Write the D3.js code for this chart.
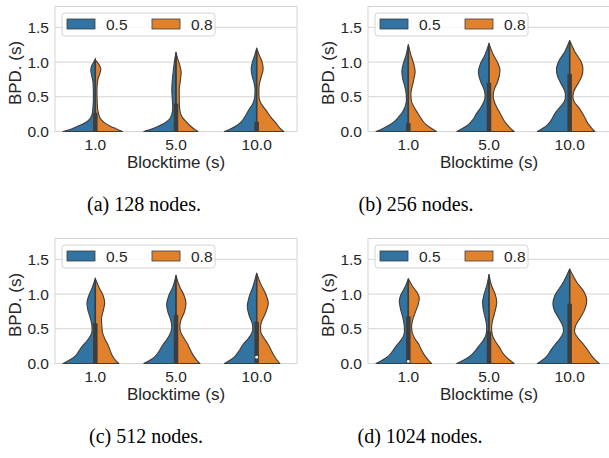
<!DOCTYPE html>
<html>
<head>
<meta charset="utf-8">
<script src="https://cdn.jsdelivr.net/npm/d3@7"></script>
<style>
  body { margin: 0; background: white; }
  svg { display: block; }
  .tick-label { font-family: "Liberation Sans", Arial, sans-serif; font-size: 15.5px; fill: #262626; }
  .axis-label { font-family: "Liberation Sans", Arial, sans-serif; font-size: 17px; fill: #262626; }
  .caption { font-family: "Liberation Serif", "Times New Roman", serif; font-size: 20px; fill: black; }
</style>
</head>
<body>
<svg id="chart" width="609" height="458"></svg>
<script>
// categories / hues / ticks
const blocktimes = ['1.0', '5.0', '10.0']
const hues = ['0.5', '0.8']
const y_ticks = [0, 0.5, 1.0, 1.5]
const captions = ['(a) 128 nodes.', '(b) 256 nodes.', '(c) 512 nodes.', '(d) 1024 nodes.']

// half-violin profiles: [BPD value, relative width], one profile per blocktime
const dens128_05 = [
  [[0,1.0],[0.03,0.78],[0.07,0.58],[0.1,0.42],[0.14,0.26],[0.2,0.14],[0.3,0.08],[0.5,0.06],[0.7,0.07],[0.8,0.11],[0.88,0.14],[0.95,0.11],[1.0,0.05],[1.05,0]],
  [[0,1.0],[0.03,0.8],[0.07,0.58],[0.12,0.36],[0.18,0.2],[0.25,0.13],[0.35,0.1],[0.5,0.12],[0.6,0.13],[0.7,0.12],[0.85,0.09],[1.0,0.05],[1.14,0]],
  [[0,1.0],[0.04,0.8],[0.08,0.64],[0.14,0.48],[0.2,0.38],[0.3,0.26],[0.4,0.12],[0.5,0.06],[0.6,0.05],[0.7,0.08],[0.8,0.14],[0.9,0.17],[1.0,0.13],[1.1,0.06],[1.2,0]]
]
const dens128_08 = [
  [[0,0.84],[0.04,0.64],[0.08,0.45],[0.12,0.3],[0.17,0.18],[0.25,0.1],[0.4,0.06],[0.6,0.05],[0.75,0.08],[0.85,0.15],[0.9,0.17],[0.96,0.12],[1.03,0]],
  [[0,0.68],[0.04,0.55],[0.09,0.42],[0.14,0.32],[0.2,0.2],[0.3,0.12],[0.45,0.1],[0.6,0.1],[0.75,0.14],[0.85,0.16],[0.95,0.12],[1.05,0.05],[1.14,0]],
  [[0,0.84],[0.05,0.72],[0.12,0.6],[0.2,0.45],[0.3,0.3],[0.4,0.14],[0.5,0.07],[0.6,0.07],[0.7,0.09],[0.8,0.15],[0.9,0.2],[1.0,0.17],[1.1,0.08],[1.2,0]]
]
const dens256_05 = [
  [[0,1.0],[0.04,0.8],[0.09,0.6],[0.15,0.42],[0.21,0.3],[0.28,0.18],[0.36,0.1],[0.45,0.06],[0.55,0.07],[0.65,0.11],[0.75,0.17],[0.86,0.2],[0.97,0.16],[1.1,0.07],[1.25,0]],
  [[0,1.0],[0.05,0.8],[0.1,0.64],[0.17,0.5],[0.25,0.4],[0.35,0.25],[0.45,0.14],[0.52,0.12],[0.6,0.15],[0.72,0.26],[0.86,0.33],[0.97,0.27],[1.1,0.13],[1.27,0]],
  [[0,1.0],[0.05,0.82],[0.1,0.68],[0.18,0.55],[0.26,0.46],[0.35,0.3],[0.43,0.17],[0.5,0.13],[0.58,0.15],[0.7,0.28],[0.8,0.38],[0.9,0.41],[1.0,0.35],[1.15,0.15],[1.31,0]]
]
const dens256_08 = [
  [[0,0.87],[0.05,0.7],[0.1,0.55],[0.17,0.42],[0.26,0.3],[0.35,0.18],[0.45,0.09],[0.55,0.08],[0.65,0.12],[0.75,0.17],[0.86,0.21],[0.97,0.17],[1.1,0.08],[1.25,0]],
  [[0,0.78],[0.05,0.66],[0.1,0.56],[0.17,0.45],[0.25,0.36],[0.35,0.24],[0.45,0.15],[0.52,0.13],[0.6,0.16],[0.72,0.27],[0.88,0.34],[0.98,0.28],[1.1,0.14],[1.27,0]],
  [[0,0.78],[0.05,0.68],[0.12,0.56],[0.2,0.47],[0.26,0.4],[0.35,0.27],[0.43,0.14],[0.5,0.1],[0.58,0.13],[0.7,0.27],[0.8,0.38],[0.9,0.41],[1.0,0.36],[1.15,0.16],[1.31,0]]
]
const dens512_05 = [
  [[0,1.0],[0.05,0.8],[0.1,0.64],[0.17,0.52],[0.24,0.42],[0.32,0.27],[0.4,0.15],[0.48,0.1],[0.56,0.11],[0.66,0.16],[0.77,0.23],[0.87,0.26],[0.98,0.2],[1.1,0.09],[1.23,0]],
  [[0,1.0],[0.05,0.8],[0.1,0.65],[0.18,0.52],[0.26,0.42],[0.35,0.28],[0.45,0.16],[0.53,0.13],[0.62,0.16],[0.74,0.25],[0.85,0.29],[0.97,0.23],[1.1,0.1],[1.27,0]],
  [[0,1.0],[0.05,0.82],[0.1,0.68],[0.18,0.55],[0.27,0.43],[0.36,0.26],[0.44,0.15],[0.5,0.12],[0.58,0.14],[0.7,0.24],[0.82,0.29],[0.95,0.24],[1.1,0.12],[1.3,0]]
]
const dens512_08 = [
  [[0,0.73],[0.05,0.62],[0.12,0.52],[0.2,0.45],[0.27,0.39],[0.35,0.3],[0.45,0.22],[0.55,0.2],[0.65,0.19],[0.75,0.24],[0.88,0.29],[0.98,0.24],[1.1,0.11],[1.22,0]],
  [[0,0.74],[0.05,0.64],[0.12,0.53],[0.2,0.44],[0.28,0.36],[0.37,0.24],[0.46,0.14],[0.53,0.12],[0.62,0.15],[0.74,0.26],[0.87,0.31],[0.98,0.25],[1.1,0.12],[1.27,0]],
  [[0,0.72],[0.05,0.63],[0.12,0.53],[0.2,0.44],[0.28,0.35],[0.37,0.22],[0.45,0.13],[0.52,0.12],[0.6,0.15],[0.72,0.27],[0.87,0.36],[1.0,0.28],[1.15,0.12],[1.3,0]]
]
const dens1024_05 = [
  [[0,1.0],[0.05,0.8],[0.1,0.64],[0.17,0.5],[0.25,0.38],[0.33,0.24],[0.41,0.14],[0.48,0.12],[0.56,0.13],[0.66,0.17],[0.78,0.24],[0.9,0.28],[1.0,0.22],[1.1,0.1],[1.22,0]],
  [[0,1.0],[0.05,0.78],[0.1,0.6],[0.17,0.45],[0.25,0.32],[0.33,0.18],[0.42,0.09],[0.5,0.07],[0.6,0.09],[0.72,0.15],[0.87,0.2],[1.0,0.15],[1.12,0.07],[1.28,0]],
  [[0,1.0],[0.05,0.84],[0.1,0.72],[0.18,0.6],[0.27,0.46],[0.36,0.3],[0.43,0.21],[0.48,0.19],[0.55,0.22],[0.66,0.35],[0.76,0.47],[0.86,0.52],[0.98,0.46],[1.15,0.22],[1.36,0]]
]
const dens1024_08 = [
  [[0,0.72],[0.05,0.62],[0.12,0.5],[0.2,0.4],[0.28,0.32],[0.36,0.2],[0.45,0.12],[0.53,0.1],[0.62,0.13],[0.74,0.22],[0.86,0.31],[0.94,0.34],[1.03,0.26],[1.12,0.12],[1.22,0]],
  [[0,0.78],[0.05,0.64],[0.1,0.52],[0.17,0.4],[0.25,0.3],[0.33,0.18],[0.42,0.1],[0.5,0.08],[0.6,0.1],[0.72,0.17],[0.89,0.24],[1.0,0.19],[1.12,0.08],[1.28,0]],
  [[0,0.92],[0.05,0.8],[0.1,0.7],[0.18,0.58],[0.27,0.44],[0.36,0.27],[0.43,0.17],[0.48,0.15],[0.55,0.19],[0.66,0.33],[0.78,0.47],[0.91,0.53],[1.02,0.46],[1.17,0.22],[1.36,0]]
]

// inner box per blocktime: [q1, q3, whisker top, median]
const box128 = [[0, 0.27, 1.03, null], [0, 0.4, 1.12, null], [0, 0.14, 1.18, null]]
const box256 = [[0, 0.12, 1.23, null], [0, 0.7, 1.25, null], [0, 0.83, 1.29, null]]
const box512 = [[0, 0.58, 1.2, null], [0, 0.7, 1.25, null], [0, 0.6, 1.28, 0.09]]
const box1024 = [[0, 0.68, 1.2, 0.03], [0, 0.46, 1.26, null], [0, 0.86, 1.34, null]]

const color_dict = { '0.5': '#3274a1', '0.8': '#e1812c', 'line': '#3d3d3d', 'grid': '#d4d4d4' }

const panels = [
  { left: 55, top: 6.5, blue: dens128_05, orange: dens128_08, box: box128, caption_x: 144, caption_y: 211 },
  { left: 368, top: 6.5, blue: dens256_05, orange: dens256_08, box: box256, caption_x: 416, caption_y: 211 },
  { left: 55, top: 238.5, blue: dens512_05, orange: dens512_08, box: box512, caption_x: 146, caption_y: 443 },
  { left: 368, top: 238.5, blue: dens1024_05, orange: dens1024_08, box: box1024, caption_x: 420, caption_y: 443 }
]
const plot_w = 242
const plot_h = 125

const svg = d3.select('#chart')

function draw_panel(p, idx) {
  let g = svg.append('g').attr('transform', `translate(${p.left},${p.top})`)

  let x = d3.scaleBand().domain(blocktimes).range([0, plot_w]).padding(0)
  let y = d3.scaleLinear().domain([0, 1.8]).range([plot_h, 0])
  let w = d3.scaleLinear().domain([0, 1]).range([0, x.bandwidth() * 0.4])

  // Grid lines
  g.selectAll('.grid')
    .data(y_ticks)
    .enter()
    .append('line')
    .attr('x1', 0)
    .attr('x2', plot_w)
    .attr('y1', d => y(d))
    .attr('y2', d => y(d))
    .style('stroke', color_dict['grid'])
    .style('stroke-width', 1)

  // Frame
  g.append('rect')
    .attr('width', plot_w)
    .attr('height', plot_h)
    .style('fill', 'none')
    .style('stroke', color_dict['grid'])
    .style('stroke-width', 1)

  // Split violins
  blocktimes.forEach((bt, i) => {
    let cx = x(bt) + x.bandwidth() / 2
    let halves = [
      { prof: p.blue[i], sign: -1, hue: '0.5' },
      { prof: p.orange[i], sign: 1, hue: '0.8' }
    ]
    halves.forEach(h => {
      let area = d3.area()
        .y(d => y(d[0]))
        .x0(cx)
        .x1(d => cx + h.sign * w(d[1]))
        .curve(d3.curveMonotoneY)
      g.append('path')
        .attr('d', area(h.prof))
        .style('fill', color_dict[h.hue])
        .style('stroke', color_dict['line'])
        .style('stroke-width', 1.1)
        .style('stroke-linejoin', 'round')
    })

    // Inner box
    let [q1, q3, top, med] = p.box[i]
    g.append('line')
      .attr('x1', cx).attr('x2', cx)
      .attr('y1', y(0)).attr('y2', y(top))
      .style('stroke', color_dict['line'])
      .style('stroke-width', 1.5)
    g.append('line')
      .attr('x1', cx).attr('x2', cx)
      .attr('y1', y(q1)).attr('y2', y(q3))
      .style('stroke', color_dict['line'])
      .style('stroke-width', 4.5)
    if (med !== null) {
      g.append('circle')
        .attr('cx', cx)
        .attr('cy', y(med))
        .attr('r', 1.4)
        .style('fill', 'white')
    }
  })

  // Y tick labels
  g.selectAll('.ytick')
    .data(y_ticks)
    .enter()
    .append('text')
    .attr('class', 'tick-label')
    .attr('x', -6)
    .attr('y', d => y(d))
    .attr('dy', '0.36em')
    .attr('text-anchor', 'end')
    .text(d => d.toFixed(1))

  // X tick labels
  g.selectAll('.xtick')
    .data(blocktimes)
    .enter()
    .append('text')
    .attr('class', 'tick-label')
    .attr('x', d => x(d) + x.bandwidth() / 2)
    .attr('y', plot_h + 18.5)
    .attr('text-anchor', 'middle')
    .text(d => d)

  // Axis labels
  g.append('text')
    .attr('class', 'axis-label')
    .attr('x', plot_w / 2)
    .attr('y', plot_h + 36.5)
    .attr('text-anchor', 'middle')
    .text('Blocktime (s)')
  g.append('text')
    .attr('class', 'axis-label')
    .attr('transform', `translate(-34,${plot_h / 2 + 4}) rotate(-90)`)
    .attr('text-anchor', 'middle')
    .text('BPD. (s)')

  // Legend
  let lg = g.append('g').attr('transform', 'translate(7,6.5)')
  lg.append('rect')
    .attr('width', 153)
    .attr('height', 23)
    .attr('rx', 3)
    .style('fill', 'white')
    .style('fill-opacity', 0.8)
    .style('stroke', color_dict['grid'])
  hues.forEach((hu, k) => {
    lg.append('rect')
      .attr('x', 5 + k * 85)
      .attr('y', 6)
      .attr('width', 28)
      .attr('height', 10)
      .style('fill', color_dict[hu])
      .style('stroke', color_dict['line'])
      .style('stroke-width', 0.8)
    lg.append('text')
      .attr('class', 'tick-label')
      .attr('x', 44 + k * 85)
      .attr('y', 11)
      .attr('dy', '0.36em')
      .text(hu)
  })

  // Caption
  svg.append('text')
    .attr('class', 'caption')
    .attr('x', p.caption_x)
    .attr('y', p.caption_y)
    .attr('text-anchor', 'middle')
    .text(captions[idx])
}

panels.forEach((p, i) => draw_panel(p, i))
</script>
</body>
</html>
